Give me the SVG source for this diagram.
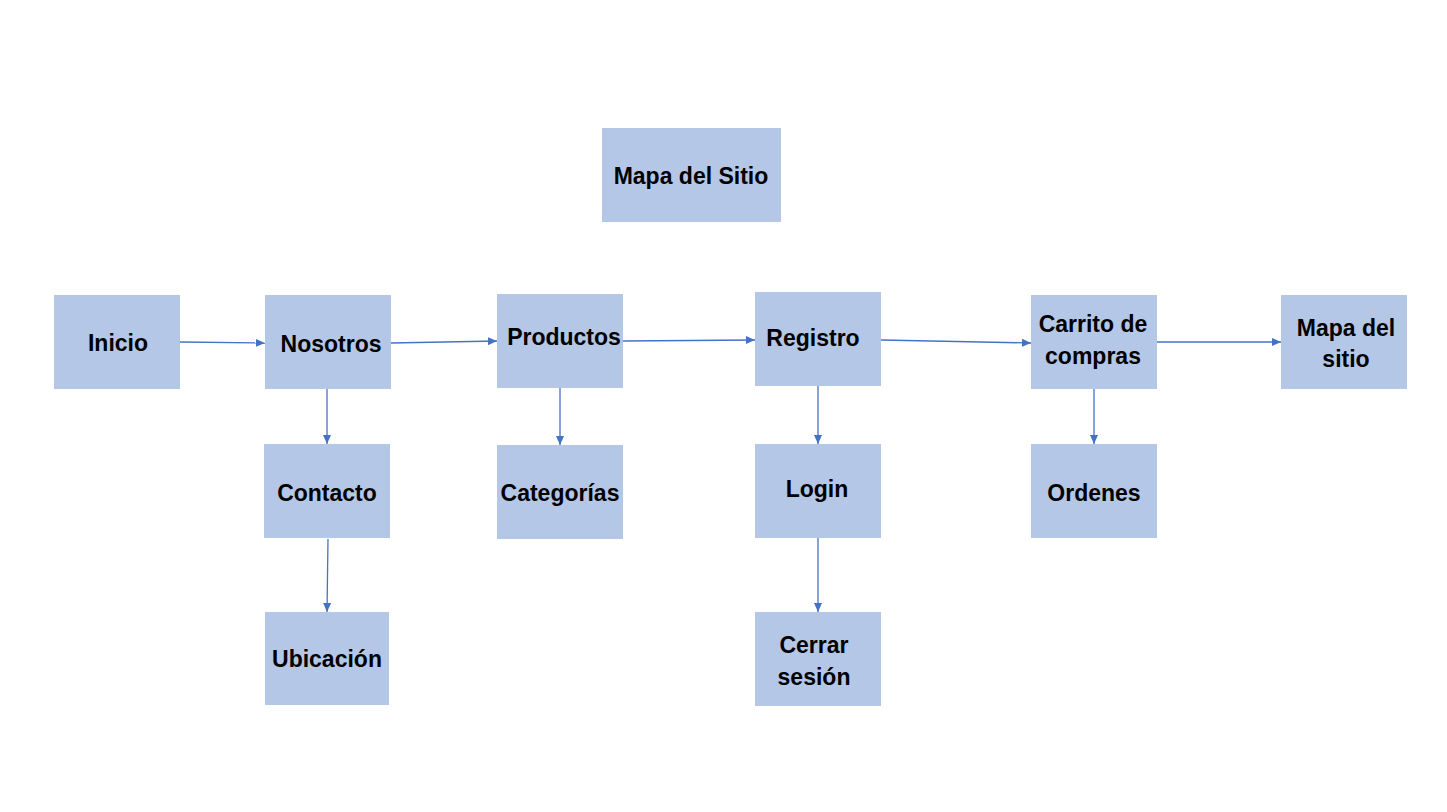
<svg xmlns="http://www.w3.org/2000/svg" width="1447" height="812" viewBox="0 0 1447 812">
<defs>
<marker id="arr" markerUnits="userSpaceOnUse" markerWidth="10" markerHeight="10" refX="9" refY="5" orient="auto">
<path d="M0,1 L9,5 L0,9 Z" fill="#4472C4"/>
</marker>
<style>
rect{fill:#B4C7E7}
text{font-family:"Liberation Sans",Arial,sans-serif;font-weight:bold;font-size:23px;fill:#000;text-anchor:middle}
.c line{stroke:#4472C4;stroke-width:1.3;marker-end:url(#arr)}
</style>
</defs>
<rect width="1447" height="812" style="fill:#fff"/>
<g id="mapa-sitio-top"><rect x="602" y="128" width="179" height="94"/><text x="691" y="184">Mapa del Sitio</text></g>
<g id="inicio"><rect x="54" y="295" width="126" height="94"/><text x="118" y="351">Inicio</text></g>
<g id="nosotros"><rect x="265" y="295" width="126" height="94"/><text x="331" y="352">Nosotros</text></g>
<g id="productos"><rect x="497" y="294" width="126" height="94"/><text x="564" y="345">Productos</text></g>
<g id="registro"><rect x="755" y="292" width="126" height="94"/><text x="813" y="346">Registro</text></g>
<g id="carrito"><rect x="1031" y="295" width="126" height="94"/><text x="1093" y="332">Carrito de</text><text x="1093" y="364">compras</text></g>
<g id="mapa-sitio"><rect x="1281" y="295" width="126" height="94"/><text x="1346" y="336">Mapa del</text><text x="1346" y="367">sitio</text></g>
<g id="contacto"><rect x="264" y="444" width="126" height="94"/><text x="327" y="501">Contacto</text></g>
<g id="categorias"><rect x="497" y="445" width="126" height="94"/><text x="560" y="501">Categorías</text></g>
<g id="login"><rect x="755" y="444" width="126" height="94"/><text x="817" y="497">Login</text></g>
<g id="ordenes"><rect x="1031" y="444" width="126" height="94"/><text x="1094" y="501">Ordenes</text></g>
<g id="ubicacion"><rect x="265" y="612" width="124" height="93"/><text x="327" y="667">Ubicación</text></g>
<g id="cerrar"><rect x="755" y="612" width="126" height="94"/><text x="814" y="653">Cerrar</text><text x="814" y="685">sesión</text></g>
<g class="c" id="connectors">
<line x1="180" y1="342" x2="265" y2="343"/>
<line x1="391" y1="343" x2="497" y2="341"/>
<line x1="623" y1="341" x2="755" y2="340"/>
<line x1="881" y1="340" x2="1031" y2="343"/>
<line x1="1157" y1="342" x2="1281" y2="342"/>
<line x1="327" y1="389" x2="327" y2="444"/>
<line x1="328" y1="539" x2="327" y2="612"/>
<line x1="560" y1="388" x2="560" y2="445"/>
<line x1="818" y1="386" x2="818" y2="444"/>
<line x1="818" y1="538" x2="818" y2="612"/>
<line x1="1094" y1="389" x2="1094" y2="444"/>
</g>
</svg>
